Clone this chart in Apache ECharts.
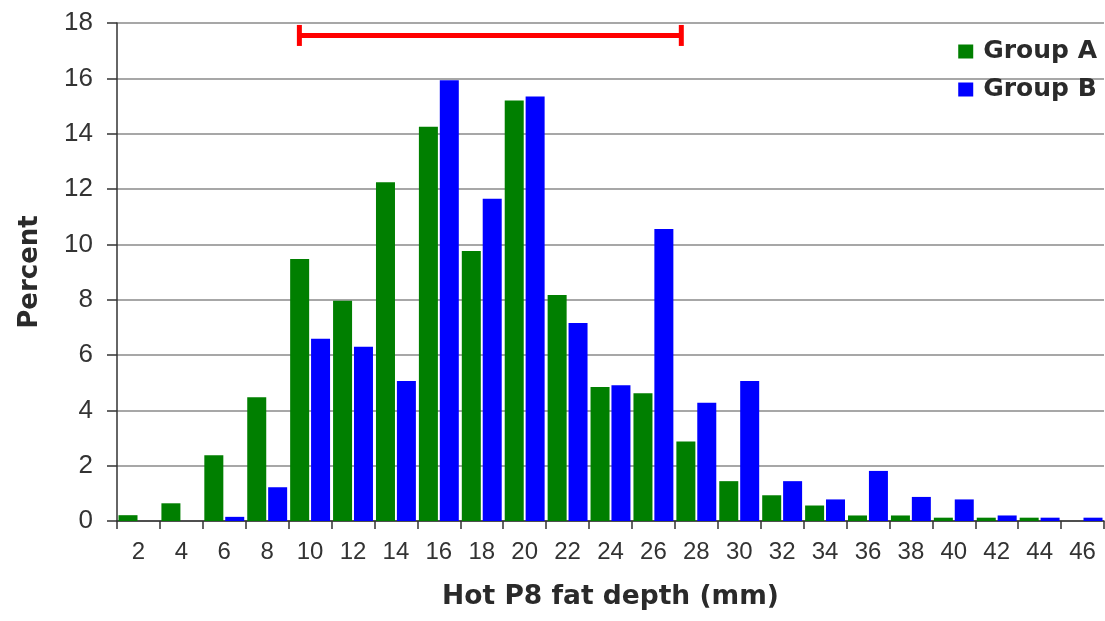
<!DOCTYPE html>
<html>
<head>
<meta charset="utf-8">
<script src="https://cdn.jsdelivr.net/npm/echarts@6/dist/echarts.min.js"></script>
<style>
html,body{margin:0;padding:0;background:#fff;}
#chart{width:1105px;height:621px;}
</style>
</head>
<body>
<div id="chart"></div>
<script>
var categories = ['2','4','6','8','10','12','14','16','18','20','22','24','26','28','30','32','34','36','38','40','42','44','46'];
var groupA = [0.21,0.64,2.38,4.47,9.47,7.96,12.24,14.25,9.76,15.2,8.17,4.84,4.62,2.87,1.44,0.93,0.56,0.2,0.2,0.12,0.12,0.12,0];
var groupB = [0,0,0.15,1.22,6.59,6.30,5.06,15.93,11.65,15.34,7.16,4.91,10.55,4.27,5.06,1.44,0.78,1.81,0.87,0.78,0.2,0.12,0.12];
var rangeStart = 9.5;   // mm
var rangeEnd = 27.3;    // mm
var rangeLevel = 17.55; // percent
var yTicks = {min: 0, max: 18, interval: 2};

var chart = echarts.init(document.getElementById('chart'), null, {renderer: 'canvas'});
var tickFont = 'Liberation Sans, Arial, sans-serif';
var boldFont = 'DejaVu Sans, Verdana, sans-serif';

chart.setOption({
  animation: false,
  backgroundColor: '#fff',
  grid: {left: 117, right: 1, top: 23, bottom: 100, containLabel: false},
  legend: {
    orient: 'vertical',
    right: 3,
    top: 34,
    itemWidth: 15,
    itemHeight: 14,
    itemGap: 13,
    icon: 'rect',
    textStyle: {fontFamily: boldFont, fontWeight: 'bold', fontSize: 25, color: '#2a2a2a', padding: [0, 0, 0, 5]},
    data: ['Group A', 'Group B']
  },
  xAxis: [{
    type: 'category',
    data: categories,
    name: 'Hot P8 fat depth (mm)',
    nameLocation: 'middle',
    nameGap: 63,
    nameTextStyle: {fontFamily: boldFont, fontWeight: 'bold', fontSize: 26.5, color: '#2a2a2a'},
    axisLine: {lineStyle: {color: '#333', width: 1.5}},
    axisTick: {show: true, length: 8, lineStyle: {color: '#333', width: 1.5}},
    axisLabel: {fontFamily: tickFont, fontSize: 24, color: '#333', margin: 19, interval: 0},
    splitLine: {show: false}
  }, {
    type: 'value',
    min: 1,
    max: 47,
    show: false
  }],
  yAxis: {
    type: 'value',
    min: yTicks.min,
    max: yTicks.max,
    interval: yTicks.interval,
    name: 'Percent',
    nameLocation: 'middle',
    nameGap: 74,
    nameTextStyle: {fontFamily: boldFont, fontWeight: 'bold', fontSize: 26, color: '#2a2a2a'},
    axisLine: {show: true, lineStyle: {color: '#333', width: 1.5}},
    axisTick: {show: true, length: 10, lineStyle: {color: '#333', width: 1.5}},
    axisLabel: {fontFamily: tickFont, fontSize: 26, color: '#333', margin: 24},
    splitLine: {show: true, lineStyle: {color: '#8a8a8a', width: 1.5}}
  },
  series: [{
    name: 'Group A',
    type: 'bar',
    data: groupA,
    itemStyle: {color: '#007f00'},
    barGap: '10%',
    barCategoryGap: '7%'
  }, {
    name: 'Group B',
    type: 'bar',
    data: groupB,
    itemStyle: {color: '#0000ff'},
    barGap: '10%',
    barCategoryGap: '7%'
  }, {
    name: 'range',
    type: 'line',
    xAxisIndex: 1,
    data: [[rangeStart, rangeLevel], [rangeEnd, rangeLevel]],
    lineStyle: {color: '#ff0000', width: 5},
    itemStyle: {color: '#ff0000'},
    symbol: 'rect',
    symbolSize: [5, 21],
    showSymbol: true,
    silent: true,
    z: 5
  }]
});
</script>
</body>
</html>
